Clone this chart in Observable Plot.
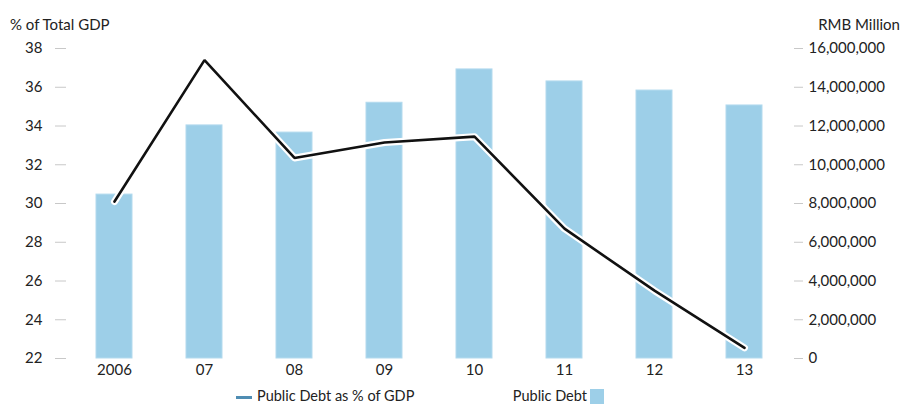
<!DOCTYPE html>
<html>
<head>
<meta charset="utf-8">
<script src="https://cdn.jsdelivr.net/npm/d3@7"></script>
<script src="https://cdn.jsdelivr.net/npm/@observablehq/plot@0.6"></script>
<style>
  html, body { margin: 0; padding: 0; background: #fff; }
  #wrap { position: relative; width: 903px; height: 405px; font-family: Lato, "Open Sans", sans-serif; color: #222; }
  #wrap svg { position: absolute; left: 0; top: 0; }
  .ttl { position: absolute; font-size: 15px; top: 15px; white-space: nowrap; }
  #legend { position: absolute; top: 387px; left: 0; width: 903px; height: 18px; font-size: 14px; }
  #legend span { position: absolute; white-space: nowrap; }
</style>
</head>
<body>
<div id="wrap">
  <div class="ttl" style="left:10px">% of Total GDP</div>
  <div class="ttl" style="right:3px">RMB Million</div>
  <div id="legend">
    <span style="left:236px;top:9px;width:16px;height:3px;background:#4f8db3"></span>
    <span style="left:257px;top:0px;font-size:14.5px">Public Debt as % of GDP</span>
    <span style="right:316px;top:0px;font-size:14.5px">Public Debt</span>
    <span style="left:590px;top:2px;width:14px;height:15px;background:#9dcfe8"></span>
  </div>
</div>
<script>
const years = ["2006", "07", "08", "09", "10", "11", "12", "13"];
const debtRMB = [8460000, 12030000, 11660000, 13200000, 14920000, 14300000, 13830000, 13060000];
const debtPctGDP = [30.1, 37.4, 32.35, 33.15, 33.45, 28.7, 25.5, 22.55];
const leftTicks = [22, 24, 26, 28, 30, 32, 34, 36, 38];
const rightTicks = [0, 2000000, 4000000, 6000000, 8000000, 10000000, 12000000, 14000000, 16000000];

const pctMin = 22, pctMax = 38, rmbMax = 16000000;
const pctToRmb = v => (v - pctMin) / (pctMax - pctMin) * rmbMax;
const rmbToPct = v => pctMin + v / rmbMax * (pctMax - pctMin);

const rows = years.map((y, i) => ({year: y, rmb: debtRMB[i], pct: debtPctGDP[i]}));

const chart = Plot.plot({
  width: 903,
  height: 380,
  marginTop: 48,
  marginBottom: 22,
  marginLeft: 68,
  marginRight: 113,
  style: {fontFamily: "Lato, 'Open Sans', sans-serif", fontSize: "15px", color: "#222", background: "transparent"},
  x: {domain: years, paddingInner: 0.6, paddingOuter: 0.3, label: null},
  y: {domain: [0, rmbMax], label: null},
  marks: [
    Plot.barY(rows, {x: "year", y: "rmb", fill: "#9dcfe8", stroke: "#b3daee", strokeWidth: 1}),
    Plot.line(rows, {x: "year", y: d => pctToRmb(d.pct), stroke: "#fff", strokeWidth: 7, strokeLinejoin: "round", strokeLinecap: "round"}),
    Plot.line(rows, {x: "year", y: d => pctToRmb(d.pct), stroke: "#111", strokeWidth: 2.6, strokeLinejoin: "miter", strokeLinecap: "round"}),
    Plot.axisY(leftTicks.map(pctToRmb), {anchor: "left", tickSize: 11, tickPadding: 13, dx: -2, stroke: "#c8c8c8", fill: "#222", tickFormat: d => String(Math.round(rmbToPct(d))), label: null}),
    Plot.axisY(rightTicks, {anchor: "right", tickSize: 9, tickPadding: 6, dx: 3, stroke: "#c8c8c8", fill: "#222", tickFormat: d3.format(",d"), label: null}),
    Plot.axisX({anchor: "bottom", tickSize: 0, tickPadding: 6, fill: "#222", label: null})
  ]
});
document.getElementById("wrap").prepend(chart);
</script>
</body>
</html>
